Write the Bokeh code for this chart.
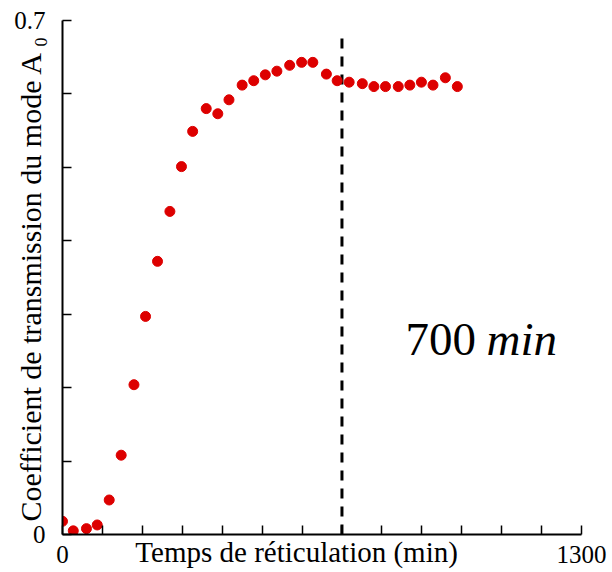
import math
from bokeh.plotting import figure
from bokeh.models import Label, FixedTicker, Range1d
from bokeh.embed import file_html
from bokeh.resources import INLINE

# --- data ---
time_min = [0, 27, 60, 87, 117, 147, 179, 208, 238, 269, 298, 326, 360, 389, 417,
            450, 479, 508, 537, 569, 599, 627, 661, 688, 718, 751, 780, 809, 841,
            870, 899, 928, 959, 989]
coeff = [0.018, 0.005, 0.008, 0.013, 0.047, 0.108, 0.204, 0.297, 0.372, 0.440,
         0.501, 0.549, 0.580, 0.573, 0.592, 0.612, 0.618, 0.626, 0.631, 0.639,
         0.643, 0.643, 0.627, 0.618, 0.616, 0.614, 0.610, 0.610, 0.610, 0.612,
         0.616, 0.612, 0.622, 0.610]
marker_x = [700, 700]
marker_y = [0, 0.685]
x_ticks = list(range(0, 1301, 100))
y_ticks = [0, 0.1, 0.2, 0.3, 0.4, 0.5, 0.6, 0.7]
x_tick_labels = {0: "0", 1300: "1300"}
y_tick_labels = {0: "0", 0.7: "0.7"}
x_title = "Temps de réticulation (min)" + "\u00a0" * 7
y_title = "Coefficient de transmission du mode A \u2080"

FONT = "Liberation Serif"

p = figure(width=612, height=572, output_backend="svg", toolbar_location=None,
           x_range=Range1d(0, 1300), y_range=Range1d(0, 0.7),
           min_border_left=62, min_border_right=31, min_border_top=20,
           min_border_bottom=38)
p.outline_line_color = None
p.xgrid.visible = False
p.ygrid.visible = False
p.background_fill_color = "white"
p.border_fill_color = "white"

for ax in (p.xaxis[0], p.yaxis[0]):
    ax.axis_line_color = "black"
    ax.axis_line_width = 2
    ax.major_tick_line_color = "black"
    ax.major_tick_line_width = 1.5
    ax.major_tick_in = 9
    ax.major_tick_out = 0
    ax.minor_tick_line_color = None
    ax.major_label_text_font = FONT
    ax.major_label_text_font_size = "25px"
    ax.major_label_text_color = "black"
    ax.axis_label_text_font = FONT
    ax.axis_label_text_font_style = "normal"
    ax.axis_label_text_color = "black"

p.xaxis[0].axis_label_text_font_size = "29px"
p.yaxis[0].axis_label_text_font_size = "30px"
p.xaxis[0].ticker = FixedTicker(ticks=x_ticks)
p.yaxis[0].ticker = FixedTicker(ticks=y_ticks)
p.xaxis[0].major_label_overrides = {t: x_tick_labels.get(t, "") for t in x_ticks}
p.yaxis[0].major_label_overrides = {t: y_tick_labels.get(t, "") for t in y_ticks}
p.xaxis[0].major_label_standoff = 11
p.yaxis[0].major_label_standoff = 17
p.xaxis[0].axis_label = x_title
p.yaxis[0].axis_label = y_title
p.xaxis[0].axis_label_standoff = -30
p.yaxis[0].axis_label_standoff = -36

p.line(marker_x, marker_y, line_color="black", line_width=3, line_dash="10 8")
p.scatter(time_min, coeff, size=10, fill_color="#dd0000", line_color="#dd0000")

p.add_layout(Label(x=859, y=0.2657, text="700", text_font=FONT,
                   text_font_size="47px", text_color="black",
                   text_align="left", text_baseline="alphabetic"))
p.add_layout(Label(x=1062, y=0.2657, text="min", text_font=FONT,
                   text_font_size="47px", text_font_style="italic",
                   text_color="black", text_align="left", text_baseline="alphabetic"))

open("out.html", "w").write(file_html(p, INLINE))
